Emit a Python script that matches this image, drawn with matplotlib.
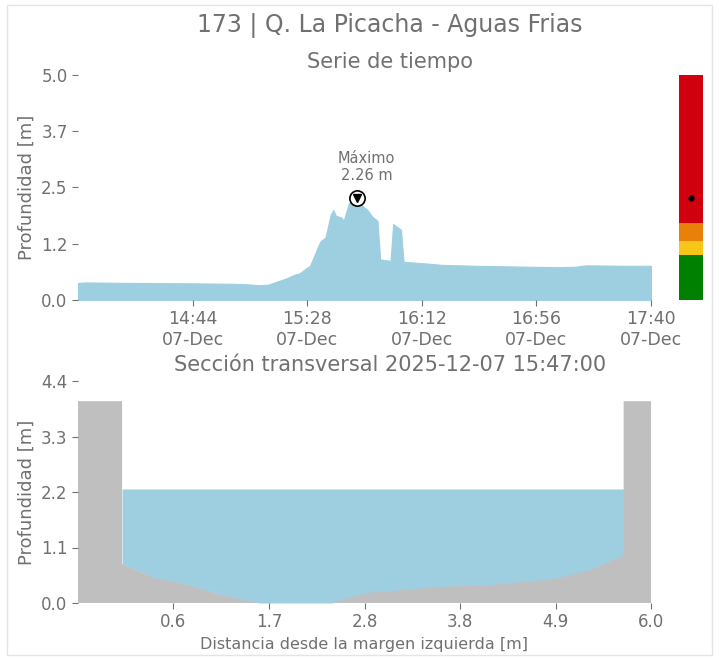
import numpy as np
import pandas as pd
import matplotlib
matplotlib.use("Agg")
import matplotlib.pyplot as plt
from matplotlib.patches import Rectangle

# ===============================================
# Data
# ===============================================

station_title = "173 | Q. La Picacha - Aguas Frias"
section_time = "2025-12-07 15:47:00"

# time series (depth in m)
ts_times = ["14:00", "14:03", "14:20", "14:44", "15:00", "15:05", "15:09", "15:13",
            "15:15", "15:20", "15:23", "15:25", "15:28", "15:29", "15:33", "15:35",
            "15:37", "15:38", "15:39", "15:41", "15:42", "15:44", "15:45", "15:47",
            "15:49", "15:51", "15:53", "15:55", "15:56", "16:00", "16:01", "16:04",
            "16:05", "16:14", "16:20", "16:33", "16:52", "17:05", "17:11", "17:15",
            "17:31", "17:40"]
ts_depth = [0.38, 0.39, 0.38, 0.37, 0.36, 0.35, 0.33, 0.34,
            0.38, 0.48, 0.56, 0.59, 0.72, 0.75, 1.30, 1.39,
            1.89, 2.00, 1.87, 1.84, 1.76, 2.15, 2.19, 2.26,
            2.10, 2.01, 1.85, 1.76, 0.90, 0.87, 1.69, 1.56,
            0.85, 0.81, 0.78, 0.76, 0.74, 0.73, 0.74, 0.77,
            0.76, 0.76]
ts_xticks = ["14:44", "15:28", "16:12", "16:56", "17:40"]
ts_yticks = [0.0, 1.25, 2.5, 3.75, 5.0]
ts_ylabels = ["0.0", "1.2", "2.5", "3.7", "5.0"]

# alert levels (m)
level_bottoms = [0.0, 1.0, 1.3, 1.7]
level_tops = [1.0, 1.3, 1.7, 5.0]
level_colors = ["#008000", "#f6c619", "#e8800a", "#d1000f"]

# cross section
bed_x = [0.0, 0.39, 0.60, 0.79, 1.11, 1.56, 2.38, 2.77, 3.08, 3.61, 4.21, 4.89, 5.31, 5.69]
bed_y = [0.77, 0.48, 0.42, 0.34, 0.16, 0.0, 0.0, 0.20, 0.24, 0.32, 0.36, 0.47, 0.65, 0.94]
wall_left = -0.5
wall_right = 6.0
wall_height = 4.0
water_level = 2.26
xs_xticks = [0.583, 1.667, 2.75, 3.833, 4.917, 6.0]
xs_xlabels = ["0.6", "1.7", "2.8", "3.8", "4.9", "6.0"]
xs_yticks = [0.0, 1.1, 2.2, 3.3, 4.4]

# ===============================================
# Style
# ===============================================

text_color = "#707070"
water_color = "#9ecfe0"
ground_color = "#bfbfbf"

plt.rcParams["font.family"] = ["DejaVu Sans"]
plt.rcParams["text.color"] = text_color
plt.rcParams["axes.labelcolor"] = text_color
plt.rcParams["xtick.color"] = text_color
plt.rcParams["ytick.color"] = text_color

fig = plt.figure(figsize=(7.19, 6.59), dpi=100)
fig.patches.append(Rectangle((7 / 719, 4 / 659), 705 / 719, 650 / 659,
                             transform=fig.transFigure, fill=False,
                             edgecolor="#e4e4e4", linewidth=1))

# titles are centred over plot + alert bar
title_x = (390 - 78) / 573

fig.text(390 / 719, 1 - 26 / 659, station_title, ha="center", va="center",
         fontsize=17)

# ===============================================
# Time series
# ===============================================

ax1 = fig.add_axes([78 / 719, 1 - 300 / 659, 573 / 719, 225 / 659])
t = pd.to_datetime(["2025-12-07 " + s for s in ts_times])
ax1.fill_between(t, 0, ts_depth, color=water_color, linewidth=0.8,
                 edgecolor=water_color)
ax1.set_xlim(t[0], t[-1])
ax1.set_ylim(0, 5.0)
ax1.set_yticks(ts_yticks)
ax1.set_yticklabels(ts_ylabels)
tick_t = pd.to_datetime(["2025-12-07 " + s for s in ts_xticks])
ax1.set_xticks(tick_t)
ax1.set_xticklabels([s + "\n07-Dec" for s in ts_xticks])
ax1.set_ylabel("Profundidad [m]", fontsize=13)
ax1.set_title("Serie de tiempo", fontsize=15, color=text_color, pad=5, x=title_x)

imax = int(np.argmax(ts_depth))
ax1.plot(t[imax], ts_depth[imax], "o", markersize=11, markerfacecolor="white",
         markeredgecolor="black", markeredgewidth=1.2)
ax1.plot(t[imax], ts_depth[imax], "v", markersize=6, color="black")
ax1.annotate("Máximo\n{:.2f} m".format(ts_depth[imax]),
             (t[imax], ts_depth[imax]), xytext=(7, 11),
             textcoords="offset points", ha="center", va="bottom",
             fontsize=10.5, color=text_color, linespacing=1.15)

# ===============================================
# Alert bar
# ===============================================

ax3 = fig.add_axes([679 / 719, 1 - 300 / 659, 24 / 719, 225 / 659])
for b, top, c in zip(level_bottoms, level_tops, level_colors):
    ax3.bar(0, top - b, bottom=b, width=1.0, color=c)
ax3.plot(0, ts_depth[imax], "o", color="black", markersize=3.5)
ax3.set_xlim(-0.5, 0.5)
ax3.set_ylim(0, 5.0)
ax3.axis("off")

# ===============================================
# Cross section
# ===============================================

ax2 = fig.add_axes([78 / 719, 1 - 603 / 659, 573 / 719, 222 / 659])
ax2.fill_between(bed_x, bed_y, water_level, color=water_color, linewidth=0)
ground_x = [wall_left, wall_left, bed_x[0]] + bed_x + [bed_x[-1], wall_right, wall_right]
ground_y = [0, wall_height, wall_height] + bed_y + [wall_height, wall_height, 0]
ax2.fill(ground_x, ground_y, color=ground_color, linewidth=0)
ax2.set_xlim(wall_left, wall_right)
ax2.set_ylim(0, 4.4)
ax2.set_xticks(xs_xticks)
ax2.set_xticklabels(xs_xlabels)
ax2.set_yticks(xs_yticks)
ax2.set_yticklabels(["{:.1f}".format(v) for v in xs_yticks])
ax2.set_ylabel("Profundidad [m]", fontsize=13)
ax2.set_xlabel("Distancia desde la margen izquierda [m]", fontsize=11.5)
ax2.set_title("Sección transversal " + section_time, fontsize=15,
              color=text_color, pad=7.5, x=title_x)

for ax in (ax1, ax2):
    for s in ax.spines.values():
        s.set_visible(False)
    ax.tick_params(labelsize=12, length=4, width=0.8, colors=text_color)
ax1.tick_params(axis="x", labelsize=12.5)

fig.savefig("out.png", dpi=100)
